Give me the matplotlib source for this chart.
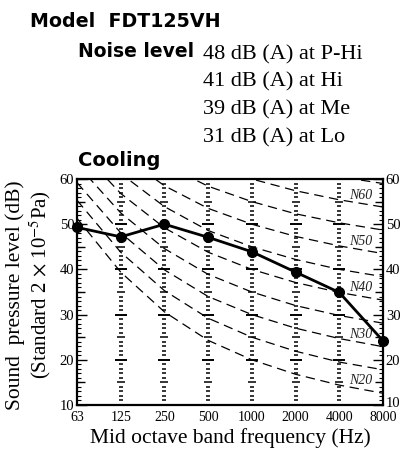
import matplotlib.pyplot as plt
from matplotlib.transforms import ScaledTranslation

plt.rcParams['mathtext.fontset'] = 'stix'

# measured sound pressure levels (dB) per octave band
freqs = ['63', '125', '250', '500', '1000', '2000', '4000', '8000']
spl = [49.3, 47.2, 50.0, 47.1, 43.9, 39.4, 34.9, 24.2]

# NR reference curves (dB at each band)
nr_names = [20, 25, 30, 35, 40, 45, 50, 55, 60, 65]
nr_curves = [
    [51.3, 39.4, 30.6, 24.3, 20, 16.8, 14.4, 12.6],
    [55.3, 43.8, 35.3, 29.2, 25, 21.9, 19.5, 17.8],
    [59.2, 48.1, 39.9, 34.0, 30, 27.0, 24.7, 22.9],
    [63.2, 52.5, 44.6, 38.9, 35, 32.0, 29.8, 28.1],
    [67.1, 56.8, 49.2, 43.8, 40, 37.1, 34.9, 33.2],
    [71.1, 61.2, 53.9, 48.6, 45, 42.2, 40.0, 38.4],
    [75.0, 65.5, 58.5, 53.5, 50, 47.3, 45.2, 43.5],
    [79.0, 69.9, 63.2, 58.4, 55, 52.3, 50.3, 48.7],
    [82.9, 74.2, 67.8, 63.2, 60, 57.4, 55.4, 53.8],
    [86.9, 78.6, 72.5, 68.1, 65, 62.5, 60.5, 59.0],
]
labelled = [20, 30, 40, 50, 60]

noise_lines = ['48 dB (A) at P-Hi', '41 dB (A) at Hi', '39 dB (A) at Me', '31 dB (A) at Lo']

serif = 'Liberation Serif'
sans = 'DejaVu Sans'

fig = plt.figure(figsize=(4.0, 4.54), dpi=100)
ax = fig.add_axes([77 / 400, 1 - 405 / 454, 306 / 400, 226 / 454])

x = list(range(len(freqs)))

# dashed NR curves
for name, vals in zip(nr_names, nr_curves):
    ax.plot(x, vals, color='black', lw=0.9, ls=(0, (7.5, 4.5)))
    if name in labelled:
        yl = (vals[6] + vals[7]) / 2
        ax.text(6.5, yl + 0.4, f'N{name}', fontsize=10, family=serif,
                style='italic', ha='center', va='bottom', color='#222222')

# ruler ladders at inner bands
for xi in x[1:-1]:
    for lv in range(11, 60):
        if lv % 10 == 0:
            ms, mw = 8, 1.4
        elif lv % 5 == 0:
            ms, mw = 5.5, 1.1
        else:
            ms, mw = 3.5, 1.1
        ax.plot(xi, lv, marker='_', ms=ms, mew=mw, color='black')

# 5 dB ticks on both spines
for lv in range(15, 60, 10):
    ax.plot(0, lv, marker=1, ms=5.5, mew=1.0, color='black', clip_on=False)
    ax.plot(7, lv, marker=0, ms=5.5, mew=1.0, color='black', clip_on=False)

# measured line
ax.plot(x, spl, color='black', lw=2, marker='o', ms=7, clip_on=False, zorder=5)

ax.set_xlim(0, 7)
ax.set_ylim(10, 60)
ax.set_xticks(x)
ax.set_xticklabels(freqs, family=serif, fontsize=10)
ax.set_yticks(range(10, 61, 10))
ax.set_yticks(range(10, 61), minor=True)
ax.set_yticklabels([str(v) for v in range(10, 61, 10)], family=serif, fontsize=10.5)
ax.tick_params(axis='y', which='major', direction='in', length=7, width=1,
               left=True, right=True, labelleft=True, labelright=True, pad=2)
ax.tick_params(axis='y', which='minor', direction='in', length=3, width=0.8,
               left=True, right=True)
ax.tick_params(axis='x', length=0, pad=4)
for s in ax.spines.values():
    s.set_linewidth(1.6)

# lift the lower right "10" a touch so it clears "8000"
fig.canvas.draw()
low_right = ax.yaxis.get_major_ticks()[0].label2
low_right.set_transform(low_right.get_transform() +
                        ScaledTranslation(0, 2.5 / 72, fig.dpi_scale_trans))

ax.set_xlabel('Mid octave band frequency (Hz)', family=serif, fontsize=15.5, labelpad=3)

fig.text(15 / 400, 1 - 295 / 454, 'Sound  pressure level (dB)', rotation=90,
         family=serif, fontsize=15.5, ha='center', va='center')
fig.text(40 / 400, 1 - 285 / 454, r'(Standard 2 $\times$ 10$^{-5}$Pa)', rotation=90,
         family=serif, fontsize=15, ha='center', va='center')

# header texts
fig.text(30 / 400, 1 - 26.7 / 454, 'Model  FDT125VH', family=sans, weight='bold',
         fontsize=13.7, va='baseline')
fig.text(78 / 400, 1 - 57.3 / 454, 'Noise level', family=sans, weight='bold',
         fontsize=13.5, va='baseline')
for i, t in enumerate(noise_lines):
    fig.text(203 / 400, 1 - (59 + 27.7 * i) / 454, t, family=serif, fontsize=16,
             va='baseline')
fig.text(78 / 400, 1 - 166 / 454, 'Cooling', family=sans, weight='bold',
         fontsize=14, va='baseline')

fig.savefig('out.png', dpi=100)
